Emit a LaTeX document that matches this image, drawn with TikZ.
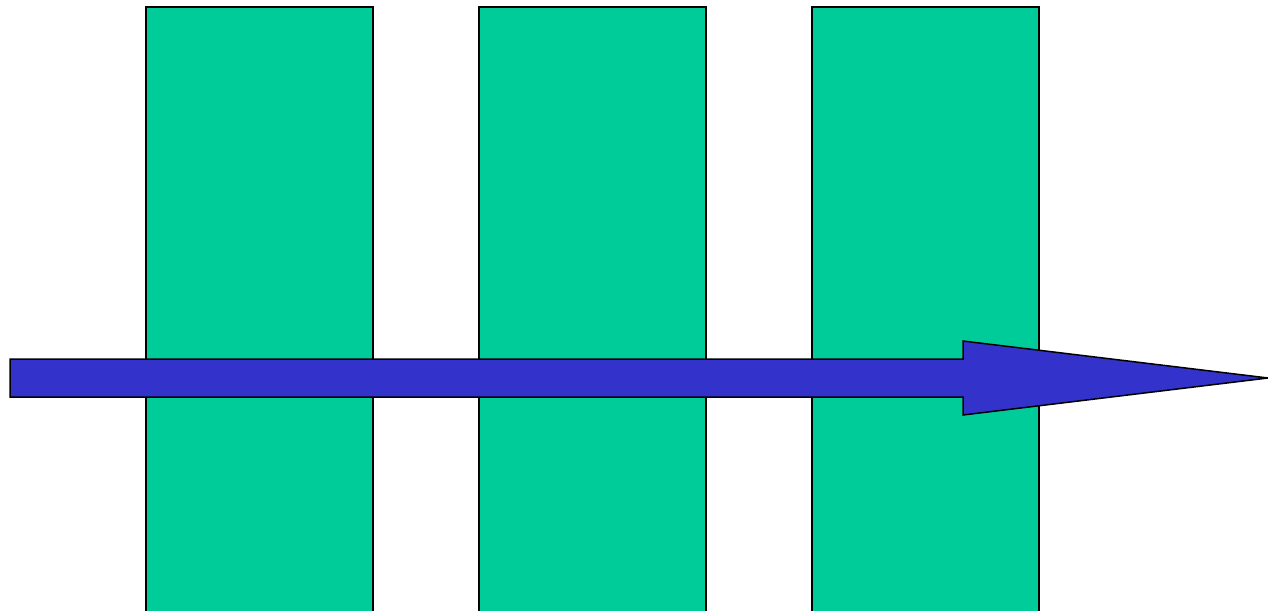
\documentclass[tikz,border=0pt]{standalone}
\usepackage{xcolor}
\usepackage{tikz}
\definecolor{barGreen}{HTML}{00CC99}
\definecolor{arrowBlue}{HTML}{3333CC}

\begin{document}
\begin{tikzpicture}[
  x=1pt, y=-1pt,
  bar/.style={draw=black, line width=1.5pt, fill=barGreen},
  bigarrow/.style={draw=black, line width=1.5pt, fill=arrowBlue, line join=miter},
]
\useasboundingbox (0,0) rectangle (1268,610);
\clip (0,0) rectangle (1268,610);

% three columns, running off the bottom edge
\foreach \xl/\name in {146/colA, 479/colB, 812/colC}
  \draw[bar] (\xl,7) rectangle ++(227,620) coordinate (\name);

% the arrow through them
\draw[bigarrow] (10,359) -- (963,359) -- (963,341) -- (1268,378)
  -- (963,415) -- (963,397) -- (10,397) -- cycle;
\end{tikzpicture}
\end{document}
